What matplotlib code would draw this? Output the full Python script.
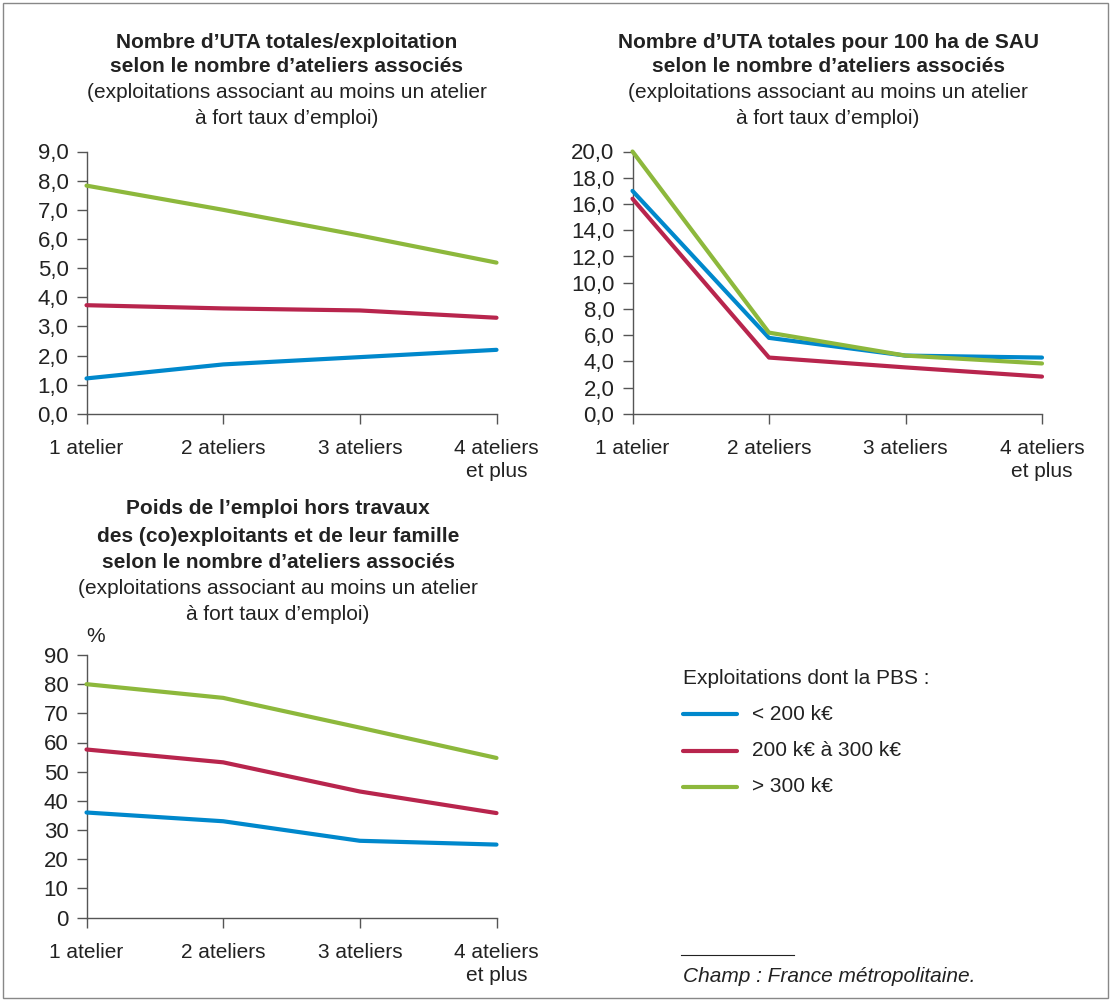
import matplotlib
matplotlib.use("Agg")
import matplotlib.pyplot as plt
from matplotlib.ticker import FuncFormatter
from matplotlib.patches import Rectangle
from matplotlib.lines import Line2D

plt.rcParams['font.family'] = ['Liberation Sans', 'DejaVu Sans']

categories = ["1 atelier", "2 ateliers", "3 ateliers", "4 ateliers\net plus"]
series_labels = ["< 200 k€", "200 k€ à 300 k€", "> 300 k€"]
colors = ["#0088CC", "#B8254D", "#8DB83C"]

uta_expl_low = [1.22, 1.70, 1.95, 2.20]
uta_expl_mid = [3.73, 3.62, 3.55, 3.30]
uta_expl_high = [7.83, 7.00, 6.12, 5.19]

uta_100ha_low = [17.0, 5.8, 4.45, 4.3]
uta_100ha_mid = [16.4, 4.3, 3.55, 2.85]
uta_100ha_high = [20.0, 6.2, 4.45, 3.85]

poids_low = [36.0, 33.0, 26.3, 25.0]
poids_mid = [57.6, 53.2, 43.2, 35.8]
poids_high = [80.0, 75.3, 65.1, 54.7]

W, H = 1112, 1000
fig = plt.figure(figsize=(W / 100, H / 100), dpi=100)
FS = 15
TXT = "#222222"

def ax_at(x0, y0, x1, y1):
    return fig.add_axes([x0 / W, 1 - y1 / H, (x1 - x0) / W, (y1 - y0) / H])

def style(ax, ymax, step, fmt):
    ax.set_xlim(0, 3)
    ax.set_ylim(0, ymax)
    ax.set_xticks(range(4))
    ax.set_xticklabels(categories, fontsize=FS, color=TXT, linespacing=1.28)
    ticks = [i * step for i in range(int(round(ymax / step)) + 1)]
    ax.set_yticks(ticks)
    ax.yaxis.set_major_formatter(FuncFormatter(fmt))
    for s in ["top", "right"]:
        ax.spines[s].set_visible(False)
    for s in ["left", "bottom"]:
        ax.spines[s].set_color("#555555")
        ax.spines[s].set_linewidth(1.0)
        ax.spines[s].set_zorder(1)
    ax.tick_params(axis="both", direction="out", length=7, width=1.0,
                   color="#555555", labelcolor=TXT)
    ax.tick_params(axis="x", pad=11, labelsize=FS)
    ax.tick_params(axis="y", pad=6, labelsize=16)
    ax.patch.set_alpha(0)

def comma1(v, p):
    return f"{v:.1f}".replace(".", ",")

def intfmt(v, p):
    return f"{int(round(v))}"

x = list(range(4))

ax1 = ax_at(86.5, 151.5, 496.5, 414)
for vals, c in zip([uta_expl_low, uta_expl_mid, uta_expl_high], colors):
    ax1.plot(x, vals, color=c, lw=3, solid_capstyle="round", clip_on=False, zorder=3)
style(ax1, 9, 1, comma1)

ax2 = ax_at(632.5, 151.5, 1042, 414)
for vals, c in zip([uta_100ha_low, uta_100ha_mid, uta_100ha_high], colors):
    ax2.plot(x, vals, color=c, lw=3, solid_capstyle="round", clip_on=False, zorder=3)
style(ax2, 20, 2, comma1)

ax3 = ax_at(86.5, 655, 496.5, 917.5)
for vals, c in zip([poids_low, poids_mid, poids_high], colors):
    ax3.plot(x, vals, color=c, lw=3, solid_capstyle="round", clip_on=False, zorder=3)
style(ax3, 90, 10, intfmt)

def ftext(px, py, s, **kw):
    fig.text(px / W, 1 - py / H, s, **kw)

tkw = dict(ha="center", va="center", fontsize=FS, color=TXT)
ftext(287, 42, "Nombre d’UTA totales/exploitation", fontweight="bold", **tkw)
ftext(287, 67, "selon le nombre d’ateliers associés", fontweight="bold", **tkw)
ftext(287, 93, "(exploitations associant au moins un atelier", **tkw)
ftext(287, 118, "à fort taux d’emploi)", **tkw)

ftext(828, 42, "Nombre d’UTA totales pour 100 ha de SAU", fontweight="bold", **tkw)
ftext(828, 67, "selon le nombre d’ateliers associés", fontweight="bold", **tkw)
ftext(828, 93, "(exploitations associant au moins un atelier", **tkw)
ftext(828, 118, "à fort taux d’emploi)", **tkw)

ftext(278, 509, "Poids de l’emploi hors travaux", fontweight="bold", **tkw)
ftext(278, 536, "des (co)exploitants et de leur famille", fontweight="bold", **tkw)
ftext(278, 562, "selon le nombre d’ateliers associés", fontweight="bold", **tkw)
ftext(278, 589, "(exploitations associant au moins un atelier", **tkw)
ftext(278, 615, "à fort taux d’emploi)", **tkw)

ftext(86, 636, "%", ha="left", va="center", fontsize=FS, color=TXT)

# legend
ftext(683, 679, "Exploitations dont la PBS :", ha="left", va="center", fontsize=FS, color=TXT)
for i, (lab, c) in enumerate(zip(series_labels, colors)):
    yy = 714 + i * 36.5
    fig.add_artist(Line2D([683 / W, 737 / W], [1 - yy / H, 1 - yy / H], color=c, lw=3,
                          solid_capstyle="round"))
    ftext(752, yy, lab, ha="left", va="center", fontsize=FS, color=TXT)

# footnote
fig.add_artist(Line2D([681 / W, 794 / W], [1 - 955 / H, 1 - 955 / H], color=TXT, lw=0.8))
ftext(683, 976, "Champ : France métropolitaine.", ha="left", va="center", fontsize=FS,
      style="italic", color=TXT)

# border
fig.add_artist(Rectangle((3 / W, 2 / H), (W - 7) / W, (H - 5) / H, transform=fig.transFigure,
                         fill=False, edgecolor="#888888", lw=1.0))

fig.savefig("out.png", dpi=100)
